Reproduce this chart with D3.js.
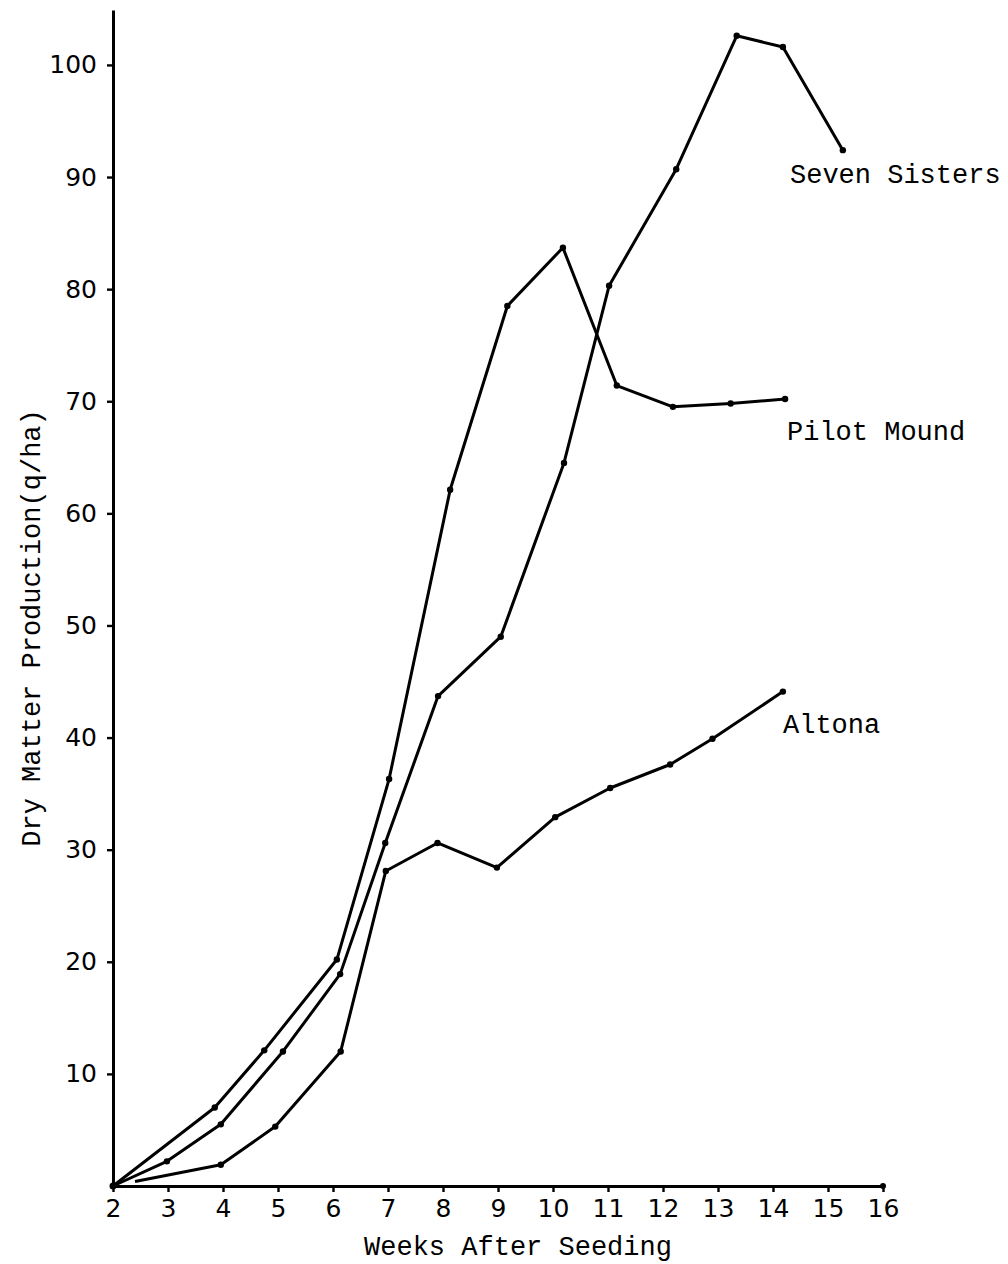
<!DOCTYPE html>
<html>
<head>
<meta charset="utf-8">
<script src="https://cdn.jsdelivr.net/npm/d3@7"></script>
<style>
  body { margin: 0; background: #fff; }
  svg { display: block; }
</style>
</head>
<body>
<svg id="chart"></svg>
<script>
// weeks after seeding and dry matter (q/ha)
const sevenSistersWeeks = [2, 2.98, 3.96, 5.09, 6.13, 6.95, 7.91, 9.05, 10.2, 11.02, 12.24, 13.34, 14.18, 15.27];
const sevenSistersValues = [0, 2.2, 5.5, 12.0, 18.9, 30.6, 43.7, 49.0, 64.5, 80.3, 90.7, 102.6, 101.6, 92.4];

const pilotMoundWeeks = [2, 3.85, 4.75, 6.07, 7.02, 8.13, 9.17, 10.18, 11.16, 12.18, 13.23, 14.22];
const pilotMoundValues = [0, 7.0, 12.1, 20.2, 36.3, 62.1, 78.5, 83.7, 71.4, 69.5, 69.8, 70.2];

const altonaWeeks = [2.4, 3.96, 4.95, 6.14, 6.96, 7.9, 8.98, 10.04, 11.04, 12.13, 12.9, 14.18];
const altonaValues = [0.4, 1.9, 5.3, 12.0, 28.1, 30.6, 28.4, 32.9, 35.5, 37.6, 39.9, 44.1];

const seriesNames = ["Seven Sisters", "Pilot Mound", "Altona"];
const xTicks = [2, 3, 4, 5, 6, 7, 8, 9, 10, 11, 12, 13, 14, 15, 16];
const yTicks = [10, 20, 30, 40, 50, 60, 70, 80, 90, 100];
const yTop = 104.9;

const width = 1008;
const height = 1264;

const svg = d3.select("#chart").attr("width", width).attr("height", height);

const x = d3.scaleLinear().domain([2, 16]).range([113, 883]);
const y = d3.scaleLinear().domain([0, yTop]).range([1186, 10]);

const tickFont = "'DejaVu Sans', sans-serif";
const typeFont = "'Liberation Mono', 'DejaVu Sans Mono', monospace";

// axes
const xAxis = d3.axisBottom(x).tickValues(xTicks).tickSize(6).tickSizeOuter(0).tickPadding(7);
const yAxis = d3.axisLeft(y).tickValues(yTicks).tickSize(6).tickSizeOuter(0).tickPadding(10);

const gx = svg.append("g")
  .attr("transform", "translate(0," + y(0) + ")")
  .call(xAxis);
const gy = svg.append("g")
  .attr("transform", "translate(" + x(2) + ",0)")
  .call(yAxis);

[gx, gy].forEach((g) => {
  g.select(".domain").attr("stroke", "#000").attr("stroke-width", 3);
  g.selectAll(".tick line").attr("stroke", "#000").attr("stroke-width", 2.4);
  g.selectAll(".tick text")
    .attr("fill", "#000")
    .style("font-family", tickFont)
    .style("font-size", "25px");
});

// dot at end of x axis
svg.append("circle").attr("cx", x(16)).attr("cy", y(0)).attr("r", 3).attr("fill", "#000");

const series = [
  { name: seriesNames[0], weeks: sevenSistersWeeks, values: sevenSistersValues, labelAt: [790, 183] },
  { name: seriesNames[1], weeks: pilotMoundWeeks, values: pilotMoundValues, labelAt: [787, 440] },
  { name: seriesNames[2], weeks: altonaWeeks, values: altonaValues, labelAt: [783, 733] },
];

const line = d3.line()
  .x((d) => x(d[0]))
  .y((d) => y(d[1]));

series.forEach((s) => {
  const pts = d3.zip(s.weeks, s.values);
  svg.append("path")
    .attr("d", line(pts))
    .attr("fill", "none")
    .attr("stroke", "#000")
    .attr("stroke-width", 3)
    .attr("stroke-linejoin", "round");

  svg.append("g")
    .selectAll("circle")
    .data(pts.filter((d) => d[1] > 1))
    .enter()
    .append("circle")
    .attr("cx", (d) => x(d[0]))
    .attr("cy", (d) => y(d[1]))
    .attr("r", 3.2)
    .attr("fill", "#000");

  svg.append("text")
    .attr("x", s.labelAt[0])
    .attr("y", s.labelAt[1])
    .style("font-family", typeFont)
    .style("font-size", "27px")
    .attr("fill", "#000")
    .text(s.name);
});

// origin dot
svg.append("circle").attr("cx", x(2)).attr("cy", y(0)).attr("r", 3.5).attr("fill", "#000");

// axis titles
svg.append("text")
  .attr("x", 518)
  .attr("y", 1255)
  .style("text-anchor", "middle")
  .style("font-family", typeFont)
  .style("font-size", "27px")
  .text("Weeks After Seeding");

svg.append("text")
  .attr("transform", "translate(40,628) rotate(-90)")
  .style("text-anchor", "middle")
  .style("font-family", typeFont)
  .style("font-size", "27px")
  .text("Dry Matter Production(q/ha)");
</script>
</body>
</html>
